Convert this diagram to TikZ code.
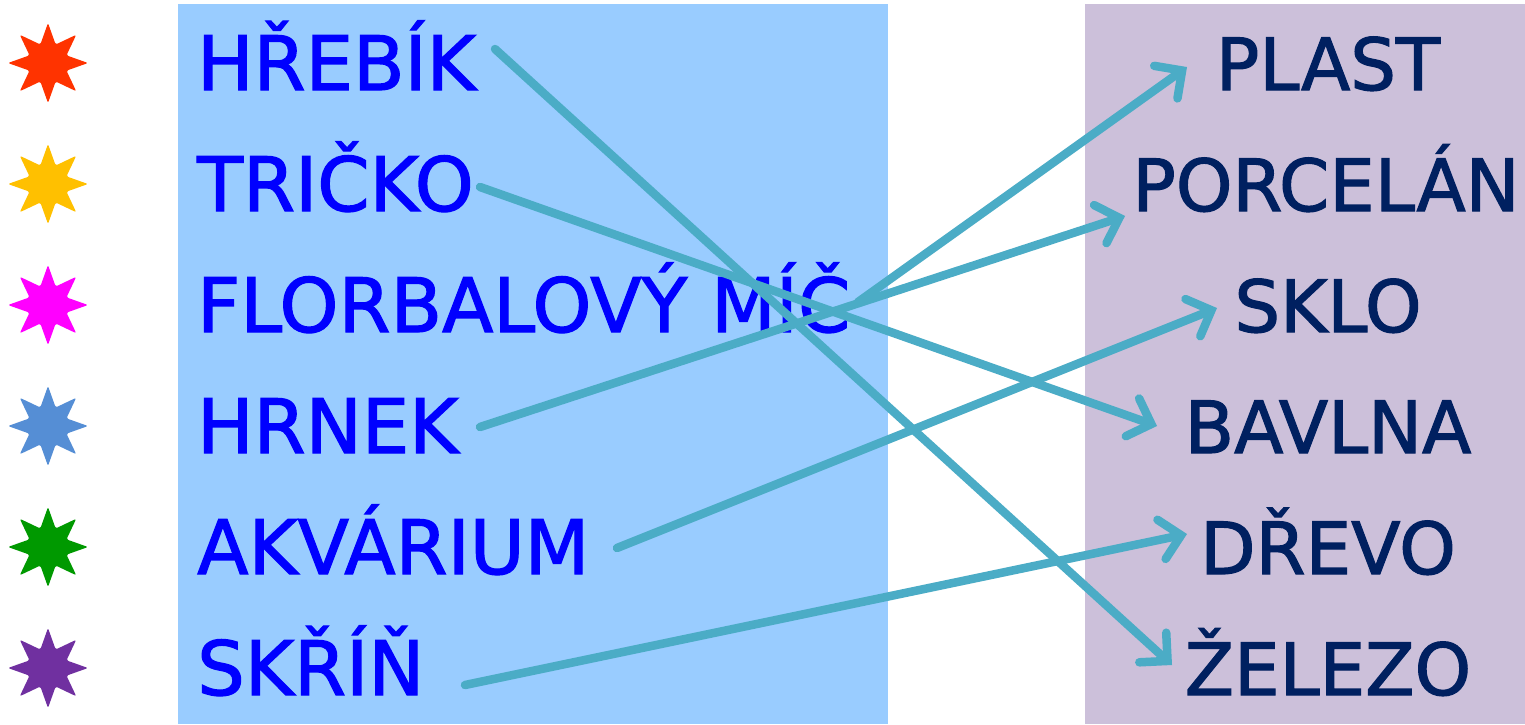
\documentclass[tikz,border=0pt]{standalone}
\usepackage{fontspec}
\setmainfont{DejaVu Sans}
\newfontfamily\wordfont[FakeBold=1.6]{DejaVu Sans}
\usetikzlibrary{shapes.geometric,arrows.meta}
\definecolor{leftbg}{HTML}{99CCFF}
\definecolor{rightbg}{HTML}{CCC0DA}
\definecolor{lefttext}{HTML}{0000FF}
\definecolor{righttext}{HTML}{002060}
\definecolor{linkcol}{HTML}{4BACC6}
\definecolor{starA}{HTML}{FF3300}
\definecolor{starB}{HTML}{FFC000}
\definecolor{starC}{HTML}{FF00FF}
\definecolor{starD}{HTML}{558ED5}
\definecolor{starE}{HTML}{009900}
\definecolor{starF}{HTML}{7030A0}
\begin{document}
\begin{tikzpicture}[x=1pt,y=-1pt,
  bullet/.style={star, star points=8, star point ratio=2.0, minimum size=80pt, inner sep=0pt, draw=none, rounded corners=2pt},
  lword/.style={anchor=base west, inner sep=0pt, text=lefttext, font=\wordfont\fontsize{75}{75}\selectfont},
  rword/.style={anchor=base, inner sep=0pt, text=righttext, font=\wordfont\fontsize{72}{72}\selectfont},
  link/.style={draw=linkcol, line width=8.5pt, line cap=round, -{Straight Barb[length=20pt,width=40pt,line cap=round]}}]
\useasboundingbox (0,0) rectangle (1525,724);
\fill[white] (0,0) rectangle (1525,724);
\fill[leftbg] (178,4) rectangle (888,724);
\fill[rightbg] (1085,4) rectangle (1525,724);

\node[bullet, fill=starA] (s1) at (48,63) {};
\node[bullet, fill=starB] (s2) at (48,184) {};
\node[bullet, fill=starC] (s3) at (48,305) {};
\node[bullet, fill=starD] (s4) at (48,426) {};
\node[bullet, fill=starE] (s5) at (48,547) {};
\node[bullet, fill=starF] (s6) at (48,668) {};

\node[lword] (hrebik) at (197,90) {HŘEBÍK};
\node[lword] (tricko) at (197,211) {TRIČKO};
\node[lword] (mic) at (197,332) {FLORBALOVÝ MÍČ};
\node[lword] (hrnek) at (197,453) {HRNEK};
\node[lword] (akvarium) at (197,574) {AKVÁRIUM};
\node[lword] (skrin) at (197,695) {SKŘÍŇ};

\node[rword] (plast) at (1328,90) {PLAST};
\node[rword] (porcelan) at (1326,211) {PORCELÁN};
\node[rword] (sklo) at (1328,332) {SKLO};
\node[rword] (bavlna) at (1328,453) {BAVLNA};
\node[rword] (drevo) at (1328,574) {DŘEVO};
\node[rword] (zelezo) at (1328,695) {ŽELEZO};

\coordinate (a1) at (495,49);   \coordinate (b1) at (1172,665);
\coordinate (a2) at (480,187);  \coordinate (b2) at (1157,426);
\coordinate (a3) at (858,302);  \coordinate (b3) at (1187,67);
\coordinate (a4) at (480,427);  \coordinate (b4) at (1125,216);
\coordinate (a5) at (617,548);  \coordinate (b5) at (1217,308);
\coordinate (a6) at (465,685);  \coordinate (b6) at (1187,534);

\draw[link] (a1) -- (b1);
\draw[link] (a2) -- (b2);
\draw[link] (a3) -- (b3);
\draw[link] (a4) -- (b4);
\draw[link] (a5) -- (b5);
\draw[link] (a6) -- (b6);
\end{tikzpicture}
\end{document}
